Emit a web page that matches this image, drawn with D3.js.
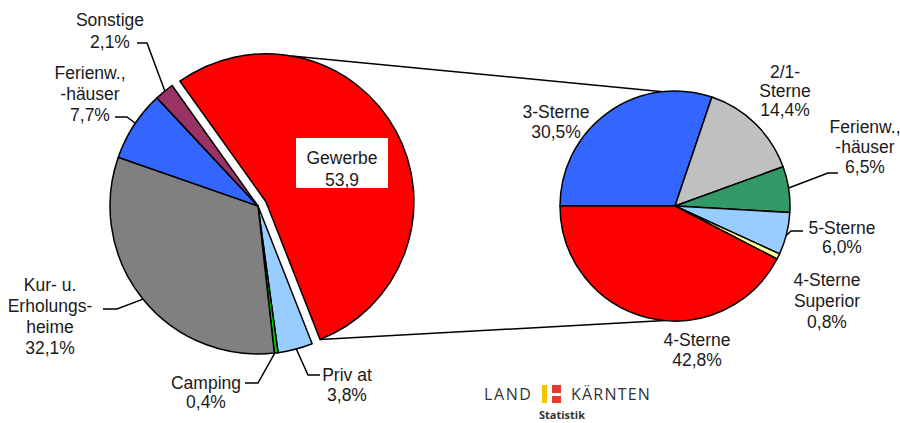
<!DOCTYPE html>
<html>
<head>
<meta charset="utf-8">
<script src="https://cdn.jsdelivr.net/npm/d3@7"></script>
<style>
  body { margin: 0; background: #fff; }
  text { font-family: "Liberation Sans", Arial, sans-serif; fill: #1a1a1a; }
  text.logo { font-family: "Open Sans", sans-serif; fill: #333; }
</style>
</head>
<body>
<script>

// Left pie: all accommodation types (share in %)
const leftCats   = ["Gewerbe", "Privat", "Camping", "Kur- u. Erholungsheime", "Ferienw., -häuser", "Sonstige"];
const leftValues = [53.9, 3.8, 0.4, 32.1, 7.7, 2.1];
const leftColors = ["#ff0000", "#99ccff", "#00cc00", "#808080", "#3366ff", "#993366"];

// Right pie: breakdown of Gewerbe
const rightCats   = ["3-Sterne", "2/1-Sterne", "Ferienw., -häuser", "5-Sterne", "4-Sterne Superior", "4-Sterne"];
const rightValues = [30.5, 14.4, 6.5, 6.0, 0.8, 42.8];
const rightColors = ["#3366ff", "#c0c0c0", "#339966", "#99ccff", "#ffff99", "#ff0000"];

// label texts as shown on the chart
const leftLabels  = [["Gewerbe", "53,9"], ["Priv at", "3,8%"], ["Camping", "0,4%"],
                     ["Kur- u.", "Erholungs-", "heime", "32,1%"], ["Ferienw.,", "-häuser", "7,7%"], ["Sonstige", "2,1%"]];
const rightLabels = [["3-Sterne", "30,5%"], ["2/1-", "Sterne", "14,4%"], ["Ferienw.,", "-häuser", "6,5%"],
                     ["5-Sterne", "6,0%"], ["4-Sterne", "Superior", "0,8%"], ["4-Sterne", "42,8%"]];

const width = 900;
const height = 423;
const deg = Math.PI / 180;

const L = {cx: 258, cy: 206, r: 148, start: -35.5 * deg, explode: 9};
const R = {cx: 675, cy: 206, r: 115, start: -90 * deg};

// label placement: text centre x, first line y, line step, leader (angle on rim, elbow, end)
const leftLayout = [
    {x: 342, y: 158, step: 22, box: true},
    {x: 347, y: 375, step: 20, leader: {a: 165, pts: [[308, 375], [320, 375]]}},
    {x: 206, y: 383, step: 19, leader: {a: 173.5, pts: [[258, 383], [245, 383]]}},
    {x: 50, y: 285, step: 21, leader: {a: 231, pts: [[117, 309], [103, 309]]}},
    {x: 90, y: 73, step: 21, leader: {a: 304, pts: [[127, 117], [115, 117]]}},
    {x: 110, y: 20, step: 22, leader: {a: 321, pts: [[147, 43], [137, 43]]}}
];
const rightLayout = [
    {x: 556, y: 112, step: 20},
    {x: 785, y: 72, step: 19},
    {x: 865, y: 127, step: 20, leader: {a: 81, pts: [[828, 173], [838, 173]]}},
    {x: 842, y: 228, step: 19, leader: {a: 105, pts: [[791, 231], [803, 231]]}},
    {x: 827, y: 280, step: 21},
    {x: 697, y: 340, step: 20}
];

const svg = d3.select("body").append("svg")
    .attr("width", width)
    .attr("height", height)
    .attr("viewBox", [0, 0, width, height]);

function rim(p, a, r) {
    return [p.cx + r * Math.sin(a * deg), p.cy - r * Math.cos(a * deg)];
}

// connector lines between the two pies (drawn first, below the slices)
const topL = [L.cx + L.explode * Math.sin(61.5 * deg), L.cy - L.explode * Math.cos(61.5 * deg)];
const redC = {cx: topL[0], cy: topL[1]};
const leftPie = d3.pie().sort(null).startAngle(L.start).endAngle(L.start + 2 * Math.PI);
const leftArcs = leftPie(leftValues);
const redEnd = leftArcs[0].endAngle / deg;
svg.append("g")
    .attr("stroke", "#000")
    .attr("stroke-width", 1.5)
    .selectAll("line")
    .data([[rim(redC, 10, L.r), rim(R, -6, R.r)], [rim(redC, redEnd, L.r), rim(R, 185, R.r)]])
    .join("line")
    .attr("x1", d => d[0][0]).attr("y1", d => d[0][1])
    .attr("x2", d => d[1][0]).attr("y2", d => d[1][1]);

// left pie
const leftArc = d3.arc().innerRadius(0).outerRadius(L.r);
svg.append("g")
    .selectAll("path")
    .data(leftArcs)
    .join("path")
    .attr("transform", (d, i) => {
        if (i != 0) return `translate(${L.cx},${L.cy})`;
        const mid = (d.startAngle + d.endAngle) / 2;
        return `translate(${L.cx + L.explode * Math.sin(mid)},${L.cy - L.explode * Math.cos(mid)})`;
    })
    .attr("d", leftArc)
    .attr("fill", (d, i) => leftColors[i])
    .attr("stroke", "#000")
    .attr("stroke-width", 1.5)
    .attr("stroke-linejoin", "round");

// right pie
const rightPie = d3.pie().sort(null).startAngle(R.start).endAngle(R.start + 2 * Math.PI);
const rightArc = d3.arc().innerRadius(0).outerRadius(R.r);
svg.append("g")
    .attr("transform", `translate(${R.cx},${R.cy})`)
    .selectAll("path")
    .data(rightPie(rightValues))
    .join("path")
    .attr("d", rightArc)
    .attr("fill", (d, i) => rightColors[i])
    .attr("stroke", "#000")
    .attr("stroke-width", 1.5)
    .attr("stroke-linejoin", "round");

// labels + leader lines
function drawLabels(pie, labels, layout) {
    labels.forEach((lines, i) => {
        const lay = layout[i];
        if (lay.leader) {
            const pts = [rim(pie, lay.leader.a, pie.r)].concat(lay.leader.pts);
            svg.append("path")
                .attr("d", d3.line()(pts))
                .attr("fill", "none")
                .attr("stroke", "#000")
                .attr("stroke-width", 1.5);
        }
        if (lay.box) {
            svg.append("rect")
                .attr("x", lay.x - 46).attr("y", lay.y - 20)
                .attr("width", 92).attr("height", 50)
                .attr("fill", "#fff");
        }
        const t = svg.append("text")
            .attr("text-anchor", "middle")
            .attr("font-size", 17.5);
        lines.forEach((s, j) => {
            t.append("tspan")
                .attr("x", lay.x)
                .attr("y", lay.y + j * lay.step)
                .attr("dy", "0.35em")
                .text(s);
        });
    });
}
drawLabels(L, leftLabels, leftLayout);
drawLabels(R, rightLabels, rightLayout);

// logo
const logo = svg.append("g");
logo.append("text")
    .attr("class", "logo")
    .attr("x", 484).attr("y", 400)
    .attr("font-size", 16)
    .attr("letter-spacing", 1.6)
    .text("LAND");
logo.append("rect").attr("x", 542).attr("y", 385).attr("width", 5).attr("height", 18).attr("fill", "#f5c400");
logo.append("rect").attr("x", 552).attr("y", 385).attr("width", 9).attr("height", 8).attr("fill", "#e53a2e");
logo.append("rect").attr("x", 552).attr("y", 396).attr("width", 9).attr("height", 7).attr("fill", "#e53a2e");
logo.append("text")
    .attr("class", "logo")
    .attr("x", 571).attr("y", 400)
    .attr("font-size", 16)
    .attr("letter-spacing", 1.2)
    .text("KÄRNTEN");
logo.append("text")
    .attr("class", "logo")
    .attr("x", 562).attr("y", 419)
    .attr("text-anchor", "middle")
    .attr("font-weight", "bold")
    .attr("font-size", 11)
    .text("Statistik");

</script>
</body>
</html>
